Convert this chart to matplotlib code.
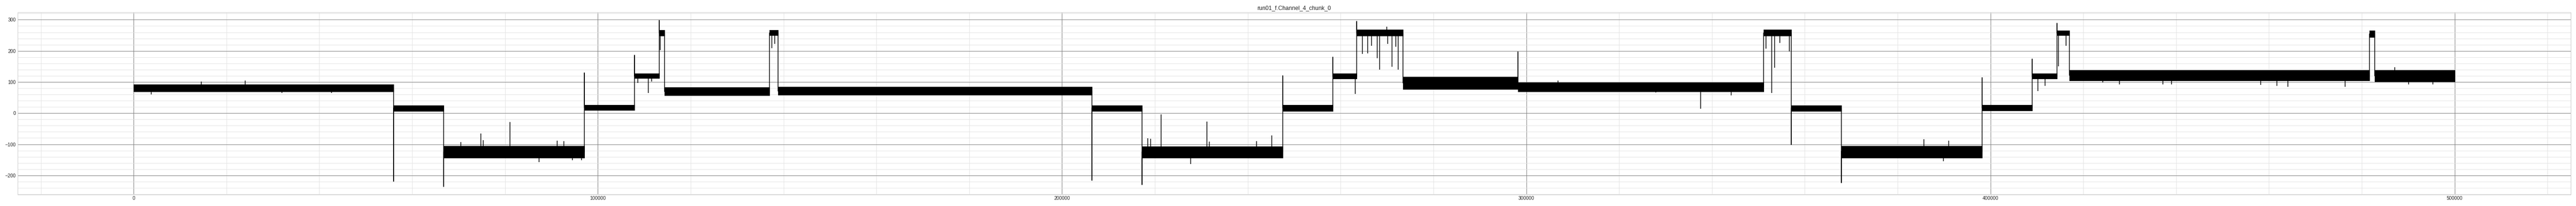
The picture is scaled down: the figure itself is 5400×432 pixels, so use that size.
import numpy as np
import matplotlib
matplotlib.use("Agg")
import matplotlib.pyplot as plt
from matplotlib.ticker import MultipleLocator, AutoMinorLocator

# ==========================================
# 1. DATA
# ==========================================
title = "run01_f.Channel_4_chunk_0"

# segment edges (sample index) and the level / noise half-width of each step
seg_edges = [0, 56000, 66800, 97100, 107900, 113200, 114400, 137000, 138800,
             206400, 217200, 247500, 258300, 263500, 273400, 298200, 351100,
             357100, 367900, 398200, 409000, 414300, 417000, 481600, 482800,
             500000]
seg_level = [81, 16, -125, 18, 120, 258, 70, 258, 71, 16, -125, 17, 119,
             258, 97, 84, 258, 16, -124, 17, 119, 258, 121, 255, 120]
seg_halfwidth = [11, 9, 19, 9, 8, 9.5, 13, 8.5, 13, 9.5, 18, 10, 9,
                 10, 20, 14, 10, 9.5, 19, 9.5, 9, 8, 17, 11, 18]

# overshoot at each step boundary (None = clean step)
edge_spike = [-219, -235, 129, 186, 297, None, None, None, -216, -230, 120,
              179, 295, None, 197, None, -100, -224, 113, 173, 289, None,
              None, None]

# isolated spikes inside the steps
spike_x = [3800, 14600, 24000, 31900, 42600,
           70500, 74760, 75300, 81070, 87300, 91230, 92620, 94520, 96520,
           108600, 110830, 111560, 113400, 137520, 138130,
           218500, 219060, 221350, 227700, 231200, 231700, 241840, 245180,
           263170, 264740, 265850, 266690, 267910, 268410, 269900, 270190,
           271030, 271860, 272420,
           306800, 327850, 337530, 344100,
           351600, 352900, 353460, 354580, 356690,
           385660, 389900, 391010, 410170, 411720, 414620, 416290,
           424200, 427830, 437180, 439000, 458170, 461710, 464080, 476360,
           487030, 490030, 495290]
spike_y = [60, 101, 104, 64, 64,
           -93, -65, -87, -29, -157, -88, -90, -152, -151,
           97, 64, 101, 202, 208, 222,
           -81, -82, -4, -164, -27, -91, -90, -72,
           61, 190, 192, 217, 176, 139, 278, 222,
           149, 214, 139,
           104, 66, 14, 57,
           207, 65, 146, 226, 198,
           -84, -154, -88, 71, 87, 151, 217,
           98, 92, 93, 93, 91, 87, 84, 84,
           148, 93, 92]

# ==========================================
# 2. PLOT
# ==========================================
plt.style.use("seaborn-v0_8-whitegrid")
plt.rcParams["font.family"] = ["Liberation Sans", "DejaVu Sans"]

fig, ax = plt.subplots(figsize=(75, 6), dpi=72)
fig.subplots_adjust(left=0.00685, right=0.99796, top=0.9398, bottom=0.0556)

edges = np.array(seg_edges, dtype=float)
level = np.array(seg_level, dtype=float)
hw = np.array(seg_halfwidth, dtype=float)

# step trace with overshoots at the boundaries
tx, ty = [], []
for i in range(len(level)):
    tx += [edges[i], edges[i + 1]]
    ty += [level[i], level[i]]
    if i < len(edge_spike) and edge_spike[i] is not None:
        tx.append(edges[i + 1])
        ty.append(edge_spike[i])
ax.plot(tx, ty, color="black", lw=1.5, solid_capstyle="butt")

# noise band of each step
for i in range(len(level)):
    ax.fill_between(edges[i:i + 2], level[i] - hw[i], level[i] + hw[i],
                    color="black", lw=0.8, edgecolor="black")

# isolated spikes
sx = np.array(spike_x, dtype=float)
idx = np.searchsorted(edges, sx, side="right") - 1
ax.vlines(sx, level[idx], spike_y, color="black", lw=1.5)

ax.set_title(title, fontsize=12, color="0.15")

ax.xaxis.set_major_locator(MultipleLocator(100000))
ax.yaxis.set_major_locator(MultipleLocator(100))
ax.xaxis.set_minor_locator(AutoMinorLocator(5))
ax.yaxis.set_minor_locator(AutoMinorLocator(5))
ax.grid(which="major", color="#808080", lw=1.0)
ax.grid(which="minor", color="#e2e2e2", lw=0.9)
ax.tick_params(which="both", length=0, labelsize=10, colors="0.15")
for s in ax.spines.values():
    s.set_color("0.8")

plt.savefig("out.png", dpi=72)
